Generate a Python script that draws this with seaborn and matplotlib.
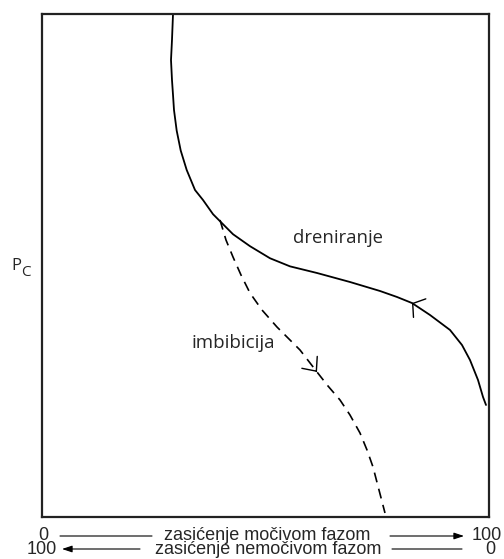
import matplotlib
matplotlib.use("Agg")
import matplotlib.pyplot as plt
from matplotlib.patches import FancyArrowPatch
import seaborn as sns
import pandas as pd

# wetting-phase saturation (%) and capillary pressure (relative units)
drain_sw = [29.31, 29.08, 28.86, 29.08, 29.31, 29.53, 30.13, 31.03, 32.37, 34.23,
            36.02, 38.26, 39.82, 42.73, 46.53, 51.01, 55.48, 61.52, 68.90, 75.62,
            79.42, 82.77, 86.80, 91.28, 93.96, 95.75, 97.54, 98.66, 99.33]
drain_pc = [100.0, 94.83, 90.85, 86.88, 83.90, 80.91, 76.82, 72.86, 68.99, 65.01,
            63.02, 60.20, 58.81, 56.22, 53.84, 51.44, 49.83, 48.51, 46.72, 44.93,
            43.74, 42.54, 40.16, 37.18, 34.19, 31.21, 27.24, 23.86, 22.27]
imb_sw = [39.82, 41.16, 42.73, 44.52, 46.53, 49.22, 52.57, 55.48, 57.72, 61.52,
          63.98, 66.67, 68.90, 71.14, 72.71, 74.05, 75.39, 76.73]
imb_pc = [59.05, 55.07, 51.69, 48.11, 44.53, 41.15, 37.77, 35.19, 33.20, 28.83,
          26.04, 23.26, 20.28, 16.70, 13.32, 9.94, 5.37, 0.80]

label_drain = "dreniranje"
label_imb = "imbibicija"
label_pc = ("P", "C")
row1 = ("0", "zasićenje močivom fazom", "100")
row2 = ("100", "zasićenje nemočivom fazom", "0")

sns.set_style("white")
fig = plt.figure(figsize=(5.04, 5.59), dpi=100)
W, H = 504, 559
ax = fig.add_axes([42 / W, 1 - 517 / H, (489 - 42) / W, (517 - 14) / H])

df_d = pd.DataFrame({"sw": drain_sw, "pc": drain_pc})
df_i = pd.DataFrame({"sw": imb_sw, "pc": imb_pc})
sns.lineplot(data=df_d, x="sw", y="pc", sort=False, estimator=None,
             color="black", lw=1.3, ax=ax)
sns.lineplot(data=df_i, x="sw", y="pc", sort=False, estimator=None,
             color="black", lw=1.2, ax=ax)
ax.lines[-1].set_dashes((6, 4))

ax.set_xlim(0, 100)
ax.set_ylim(0, 100)
ax.set_xticks([])
ax.set_yticks([])
ax.set_xlabel("")
ax.set_ylabel("")
for s in ax.spines.values():
    s.set_visible(True)
    s.set_color("#222222")
    s.set_linewidth(1.6)


def chevron(xs, ys, i, hl, hw):
    tip = (xs[i], ys[i])
    prev = (xs[i - 1], ys[i - 1])
    tail = (tip[0] - 0.05 * (tip[0] - prev[0]), tip[1] - 0.05 * (tip[1] - prev[1]))
    ax.annotate("", xy=tip, xytext=tail,
                arrowprops=dict(arrowstyle=f"->,head_length={hl},head_width={hw}",
                                color="black", lw=1.0, shrinkA=0, shrinkB=0))


# drainage runs from high to low wetting saturation: arrow points up-left
n = len(drain_sw)
chevron(drain_sw[::-1], drain_pc[::-1], n - 1 - 21, 0.6, 0.8)
chevron(imb_sw, imb_pc, 9, 0.8, 0.7)

fam = ["Open Sans", "DejaVu Sans"]
fig.text(338 / W, 1 - 238 / H, label_drain, ha="center", va="center",
         fontsize=13.3, family=fam)
fig.text(233 / W, 1 - 343 / H, label_imb, ha="center", va="center",
         fontsize=13.5, family=fam)
fig.text(16 / W, 1 - 266 / H, label_pc[0], ha="center", va="center",
         fontsize=12, family=fam)
fig.text(26 / W, 1 - 273 / H, label_pc[1], ha="center", va="center",
         fontsize=11, family=fam)

bfam = ["Liberation Sans", "DejaVu Sans"]
fs = 13
y1 = (H - 536) / H
y2 = (H - 550) / H
fig.text(43 / W, y1, row1[0], ha="center", va="center", fontsize=fs, family=bfam)
fig.text(267 / W, y1, row1[1], ha="center", va="center", fontsize=fs, family=bfam)
fig.text(487 / W, y1, row1[2], ha="center", va="center", fontsize=fs, family=bfam)
fig.text(42 / W, y2, row2[0], ha="center", va="center", fontsize=fs, family=bfam)
fig.text(268 / W, y2, row2[1], ha="center", va="center", fontsize=fs, family=bfam)
fig.text(490 / W, y2, row2[2], ha="center", va="center", fontsize=fs, family=bfam)


def px(x, y):
    return (x / 100.0, y / 100.0)


for (x0, x1, yy, head) in [(60, 152, H - 536, False), (390, 464, H - 536, True),
                           (140, 62, H - 549, True), (392, 462, H - 549, False)]:
    fig.add_artist(FancyArrowPatch(
        px(x0, yy), px(x1, yy), transform=fig.dpi_scale_trans,
        arrowstyle="-|>,head_length=0.6,head_width=0.2" if head else "-",
        mutation_scale=10, color="black", lw=0.8, shrinkA=0, shrinkB=0))

fig.savefig("out.png", dpi=100)
